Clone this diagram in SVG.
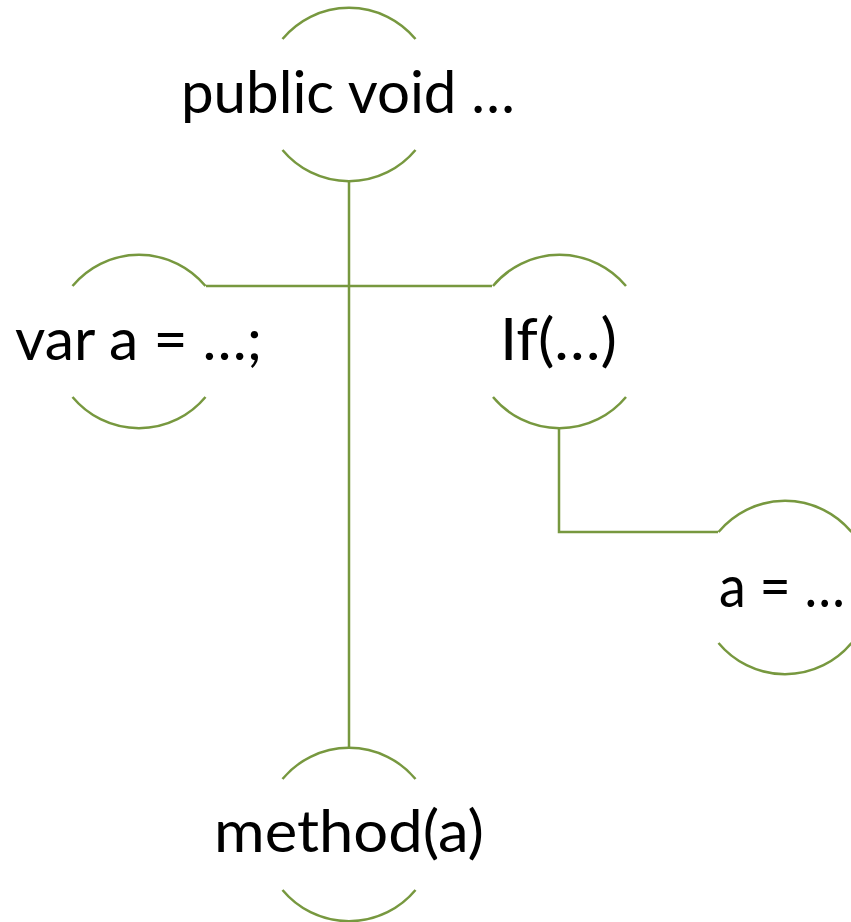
<svg xmlns="http://www.w3.org/2000/svg" width="851" height="922" viewBox="0 0 851 922">
<style>
.arc{fill:none;stroke:#77983f;stroke-width:2.5}
.con{fill:none;stroke:#77983f;stroke-width:2.5}
.t{font-family:Lato,"Open Sans","Liberation Sans",sans-serif;font-size:58px;fill:#000;text-anchor:middle}
</style>
<rect width="851" height="922" fill="#fff"/>
<g id="connectors">
<path class="con" d="M349,181 V748"/>
<path class="con" d="M206,286 H492"/>
<path class="con" d="M559,428 V532 H718"/>
</g>
<g id="n-public">
<path class="arc" d="M282.5,39 A86.5,86.5 0 0 1 415.5,39"/>
<path class="arc" d="M282.5,150 A86.5,86.5 0 0 0 415.5,150"/>
<text class="t" x="348" y="113" textLength="334" lengthAdjust="spacingAndGlyphs">public void …</text>
</g>
<g id="n-var">
<path class="arc" d="M72.5,286 A86.5,86.5 0 0 1 205.5,286"/>
<path class="arc" d="M72.5,397 A86.5,86.5 0 0 0 205.5,397"/>
<text class="t" x="138.5" y="360" textLength="247" lengthAdjust="spacingAndGlyphs">var a = …;</text>
</g>
<g id="n-if">
<path class="arc" d="M493,286 A86.5,86.5 0 0 1 626,286"/>
<path class="arc" d="M493,397 A86.5,86.5 0 0 0 626,397"/>
<text class="t" x="558.5" y="360" textLength="117" lengthAdjust="spacingAndGlyphs">If(…)</text>
</g>
<g id="n-assign">
<path class="arc" d="M718.5,532 A86.5,86.5 0 0 1 851.5,532"/>
<path class="arc" d="M718.5,643 A86.5,86.5 0 0 0 851.5,643"/>
<text class="t" x="782" y="607" textLength="126" lengthAdjust="spacingAndGlyphs">a = …</text>
</g>
<g id="n-method">
<path class="arc" d="M282.5,779 A86.5,86.5 0 0 1 415.5,779"/>
<path class="arc" d="M282.5,890 A86.5,86.5 0 0 0 415.5,890"/>
<text class="t" x="349" y="852" textLength="270" lengthAdjust="spacingAndGlyphs">method(a)</text>
</g>
</svg>
